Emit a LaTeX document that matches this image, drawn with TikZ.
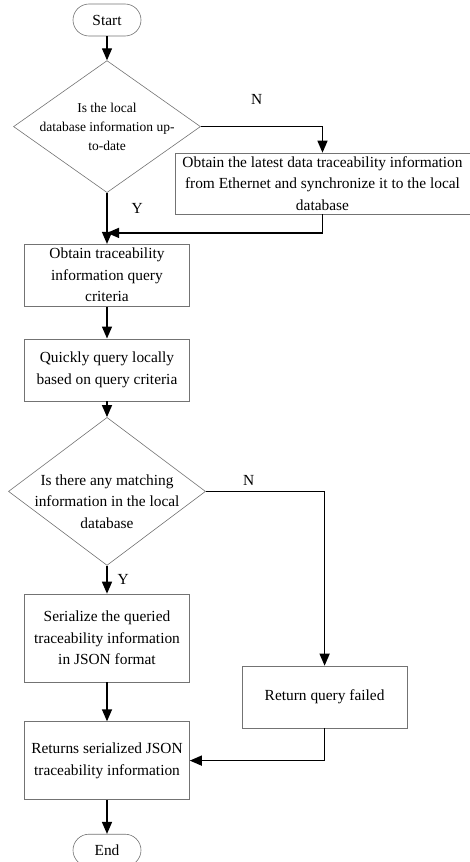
\documentclass[tikz,border=0pt]{standalone}
\usepackage{fontspec}
\setmainfont{Liberation Serif}
\usetikzlibrary{positioning,arrows.meta,shapes.geometric,calc}

\begin{document}
\begin{tikzpicture}[
  x=1pt, y=1pt,
  font=\fontsize{15.4}{21.5}\selectfont,
  term/.style={draw=black!55, line width=0.6pt, rounded corners=16pt,
               minimum width=68pt, minimum height=32pt, inner sep=0pt},
  box/.style={draw=black!55, line width=0.6pt, align=center,
              minimum width=165pt, minimum height=62pt, inner sep=2pt},
  dec/.style={draw=black!55, line width=0.6pt, diamond, align=center,
              inner xsep=0pt, inner ysep=-15pt},
  arr/.style={-{Triangle[length=12pt, width=10pt]}, line width=1.4pt},
  lab/.style={inner sep=2pt}
]
\useasboundingbox (0,0) rectangle (470,-862);
% Main column
\node[term] (start) at (107,-20) {Start};
\node[dec, below=24pt of start, minimum width=187pt, minimum height=132pt,
      aspect=1.417, font=\fontsize{13.5}{19}\selectfont] (upd)
  {Is the local\\ database information up-\\ to-date};
\node[box, below=51pt of upd] (crit) {Obtain traceability\\ information query\\ criteria};
\node[box, below=32pt of crit] (query) {Quickly query locally\\ based on query criteria};
\node[dec, below=16pt of query, minimum width=197pt, minimum height=148pt,
      aspect=1.33, inner ysep=-23pt] (match)
  {\rule{0pt}{31pt}Is there any matching\\ information in the local\\ database};
\node[box, below=28pt of match, minimum height=88pt] (serial)
  {Serialize the queried\\ traceability information\\ in JSON format};
\node[box, below=39pt of serial, minimum height=78pt] (ret)
  {Returns serialized JSON\\ traceability information};
\node[term, below=34pt of ret] (end) {End};
% Right branches
\node[box, minimum width=295pt, minimum height=61pt] (eth) at (322.5,-183.5)
  {Obtain the latest data traceability information\\ from Ethernet and synchronize it to the local\\ database};
\node[box, right=52pt of serial, yshift=-59pt] (fail) {Return query failed};
\coordinate[above=11pt of crit.north] (merge);
% Connectors
\draw[arr] (start) -- (upd);
\draw[arr] (upd.east) -| node[lab, above=19pt, pos=0.23] {N} (eth.north);
\draw[arr] (upd.south) -- node[lab, right=22pt, pos=0.31] {Y} (crit.north);
\draw[arr] (eth.south) |- (merge);
\draw[arr] (crit) -- (query);
\draw[arr] (query) -- (match);
\draw[arr] (match.east) -| node[lab, above=3pt, pos=0.18] {N} (fail.north);
\draw[arr] (match.south) -- node[lab, right=8pt] {Y} (serial.north);
\draw[arr] (serial) -- (ret);
\draw[arr] (fail.south) |- (ret.east);
\draw[arr] (ret) -- (end);
\end{tikzpicture}
\end{document}
